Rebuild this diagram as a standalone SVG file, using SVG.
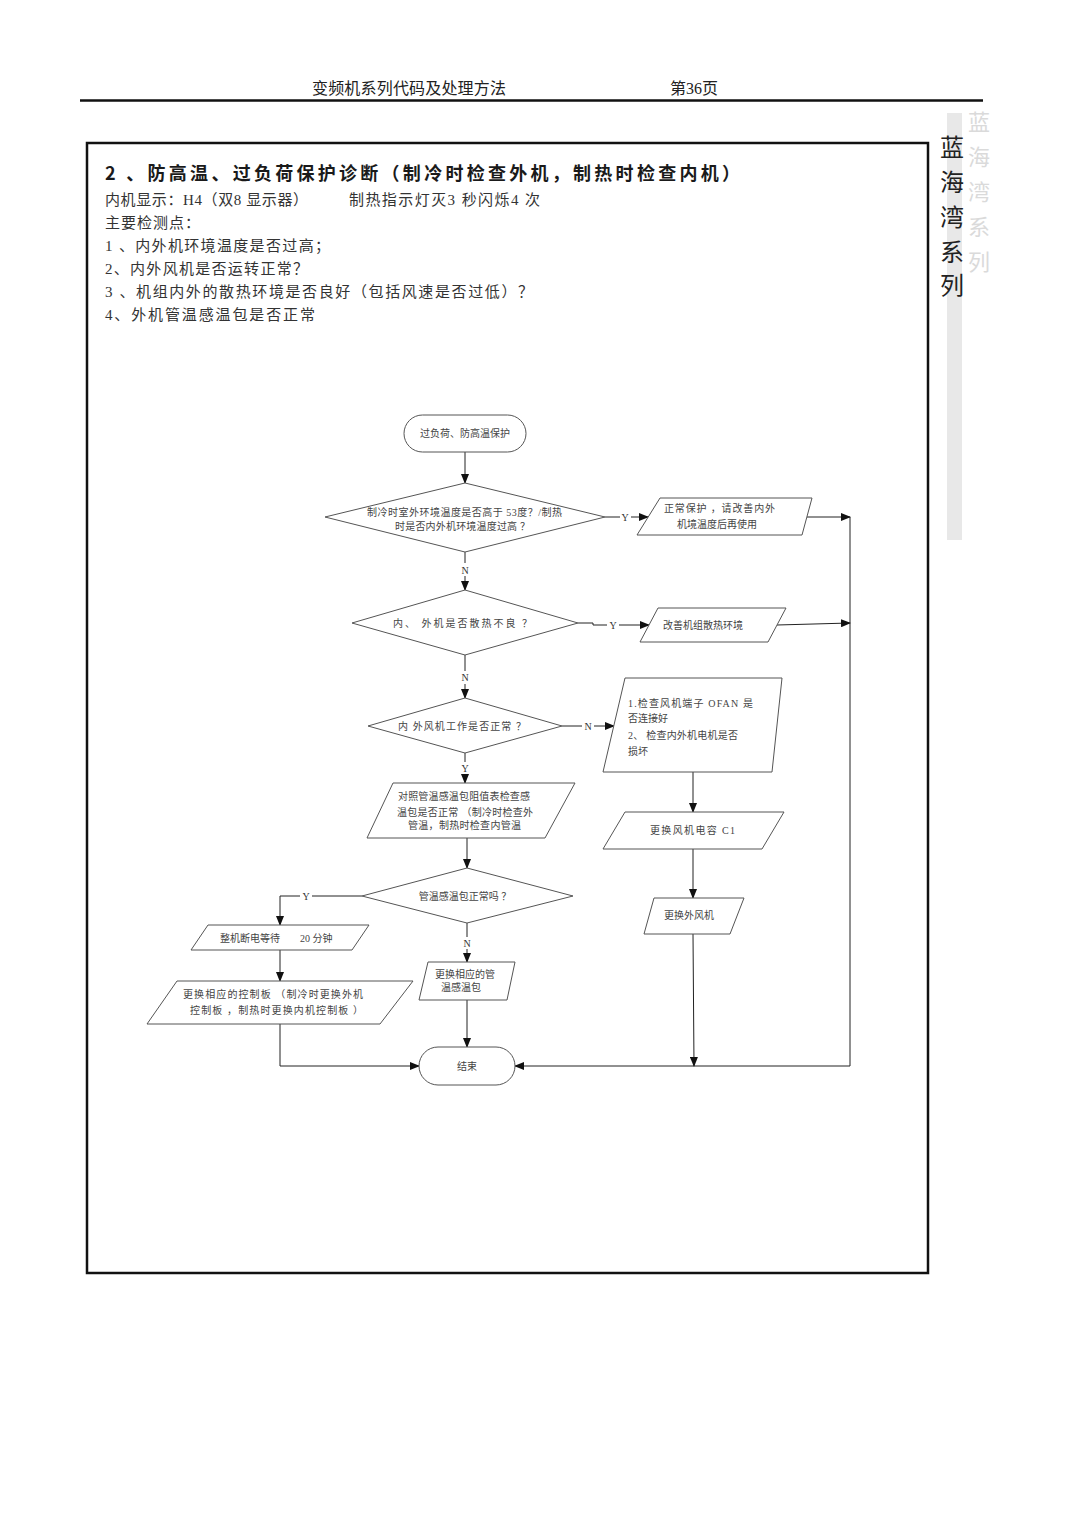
<svg xmlns="http://www.w3.org/2000/svg" width="1080" height="1527" viewBox="0 0 1080 1527">
<defs>
<marker id="arr" markerWidth="10" markerHeight="8" refX="9" refY="4" orient="auto" markerUnits="userSpaceOnUse">
<path d="M0,0 L10,4 L0,8 Z" fill="#111"/>
</marker>
<clipPath id="ghostclip"><rect x="966" y="100" width="40" height="460"/></clipPath>
</defs>
<style>
.hdr{font-family:"Liberation Serif","Noto Sans CJK SC",serif;font-size:16px;fill:#222}
.title{font-family:"Noto Sans CJK SC","Liberation Sans",sans-serif;font-size:18px;font-weight:bold;fill:#1a1a1a}
.body{font-family:"Liberation Serif","Noto Sans CJK SC",serif;font-size:15px;fill:#333}
.side{font-family:"Noto Sans CJK SC",sans-serif;font-size:24px;fill:#222;text-anchor:middle}
.ghost{font-family:"Noto Sans CJK SC",sans-serif;font-size:22px;fill:#dadada;text-anchor:middle}
.shape{fill:#fff;stroke:#555;stroke-width:1}
.t{font-family:"Liberation Serif","Noto Sans CJK SC",serif;font-size:10px;fill:#444}
.tc{font-family:"Liberation Serif","Noto Sans CJK SC",serif;font-size:10px;fill:#444;text-anchor:middle}
.lbl{font-family:"Liberation Serif",serif;font-size:10px;fill:#333;text-anchor:middle}
.c{fill:none;stroke:#222;stroke-width:1}
.ca{fill:none;stroke:#222;stroke-width:1;marker-end:url(#arr)}
</style>
<rect width="1080" height="1527" fill="#fff"/>

<g id="page-header">
<text class="hdr" x="312" y="94" textLength="194">变频机系列代码及处理方法</text>
<text class="hdr" x="670" y="94" textLength="48">第36页</text>
<line x1="80" y1="100.5" x2="983" y2="100.5" stroke="#111" stroke-width="2.5"/>
</g>

<g id="side-banner">
<rect x="947" y="113" width="15" height="427" fill="#e8e8e8"/>
<g clip-path="url(#ghostclip)">
<text class="ghost" x="979" y="130">蓝</text>
<text class="ghost" x="979" y="165">海</text>
<text class="ghost" x="979" y="200">湾</text>
<text class="ghost" x="979" y="235">系</text>
<text class="ghost" x="979" y="270">列</text>
</g>
<text class="side" x="952" y="156">蓝</text>
<text class="side" x="952" y="191">海</text>
<text class="side" x="952" y="226">湾</text>
<text class="side" x="952" y="261">系</text>
<text class="side" x="952" y="294">列</text>
</g>

<rect id="frame" x="87" y="143" width="841" height="1130" fill="none" stroke="#111" stroke-width="2.5"/>

<g id="intro">
<text class="title" x="105" y="180" textLength="635">2 、防高温、过负荷保护诊断（制冷时检查外机，制热时检查内机）</text>
<text class="body" x="105" y="205" textLength="203">内机显示：H4（双8 显示器）</text>
<text class="body" x="349" y="205" textLength="191">制热指示灯灭3 秒闪烁4 次</text>
<text class="body" x="105" y="228" textLength="95">主要检测点：</text>
<text class="body" x="105" y="251" textLength="225">1 、内外机环境温度是否过高；</text>
<text class="body" x="105" y="274" textLength="203">2、内外风机是否运转正常？</text>
<text class="body" x="105" y="297" textLength="428">3 、机组内外的散热环境是否良好（包括风速是否过低）？</text>
<text class="body" x="105" y="320" textLength="210">4、外机管温感温包是否正常</text>
</g>

<g id="connectors">
<line class="ca" x1="465" y1="452" x2="465" y2="483"/>
<line class="c" x1="605" y1="517" x2="620" y2="517"/>
<line class="ca" x1="631" y1="517" x2="648" y2="517"/>
<line class="ca" x1="807" y1="517" x2="850" y2="517"/>
<line class="c" x1="465" y1="552" x2="465" y2="563"/>
<line class="ca" x1="465" y1="576" x2="465" y2="590"/>
<polyline class="c" points="578,623 593,623 593,625 607,625"/>
<line class="ca" x1="619" y1="625" x2="649" y2="625"/>
<line class="ca" x1="777" y1="625" x2="850" y2="623"/>
<line class="c" x1="465" y1="655" x2="465" y2="671"/>
<line class="ca" x1="465" y1="684" x2="465" y2="698"/>
<line class="c" x1="562" y1="726" x2="582" y2="726"/>
<line class="ca" x1="594" y1="726" x2="614" y2="726"/>
<line class="c" x1="465" y1="753" x2="465" y2="762"/>
<line class="ca" x1="465" y1="774" x2="465" y2="783"/>
<line class="ca" x1="693" y1="772" x2="693" y2="812"/>
<line class="ca" x1="693" y1="849" x2="693" y2="898"/>
<line class="ca" x1="693" y1="934" x2="694" y2="1066"/>
<polyline class="ca" points="850,517 850,1066 515,1066"/>
<line class="ca" x1="467" y1="838" x2="467" y2="868"/>
<polyline class="c" points="362,896 312,896"/>
<polyline class="ca" points="300,896 280,896 280,925"/>
<line class="ca" x1="280" y1="950" x2="280" y2="981"/>
<polyline class="ca" points="280,1024 280,1066 419,1066"/>
<line class="c" x1="467" y1="923" x2="467" y2="937"/>
<line class="ca" x1="467" y1="949" x2="467" y2="962"/>
<line class="ca" x1="467" y1="1000" x2="467" y2="1047"/>
<text class="lbl" x="625" y="521">Y</text>
<text class="lbl" x="465" y="574">N</text>
<text class="lbl" x="613" y="629">Y</text>
<text class="lbl" x="465" y="681">N</text>
<text class="lbl" x="588" y="730">N</text>
<text class="lbl" x="465" y="772">Y</text>
<text class="lbl" x="306" y="900">Y</text>
<text class="lbl" x="467" y="947">N</text>
</g>

<g id="start">
<rect class="shape" x="404" y="415" width="122" height="37" rx="18.5"/>
<text class="tc" x="465" y="437">过负荷、防高温保护</text>
</g>

<g id="d1">
<polygon class="shape" points="465,483 605,517 465,552 325,517"/>
<text class="t" x="367" y="516" textLength="195">制冷时室外环境温度是否高于 53度？/制热</text>
<text class="t" x="395" y="530" textLength="135">时是否内外机环境温度过高 ？</text>
</g>

<g id="p1">
<polygon class="shape" points="660,498 812,498 802,535 637,535"/>
<text class="t" x="664" y="512" textLength="111">正常保护 ，请改善内外</text>
<text class="t" x="677" y="528">机境温度后再使用</text>
</g>

<g id="d2">
<polygon class="shape" points="465,590 578,623 465,655 352,623"/>
<text class="t" x="393" y="627" textLength="139">内、 外机是否散热不良        ？</text>
</g>

<g id="p2">
<polygon class="shape" points="658,608 786,608 768,642 640,642"/>
<text class="t" x="663" y="629">改善机组散热环境</text>
</g>

<g id="d3">
<polygon class="shape" points="465,698 562,726 465,753 368,726"/>
<text class="t" x="398" y="730" textLength="128">内 外风机工作是否正常      ？</text>
</g>

<g id="p3">
<polygon class="shape" points="625,678 782,678 772,772 603,772"/>
<text class="t" x="628" y="707" textLength="125">1.检查风机端子    OFAN 是</text>
<text class="t" x="628" y="722">否连接好</text>
<text class="t" x="628" y="739" textLength="110">2、 检查内外机电机是否</text>
<text class="t" x="628" y="755">损坏</text>
</g>

<g id="p4">
<polygon class="shape" points="393,783 575,783 545,838 367,838"/>
<text class="t" x="398" y="800" textLength="132">对照管温感温包阻值表检查感</text>
<text class="t" x="397" y="816" textLength="136">温包是否正常 （制冷时检查外</text>
<text class="t" x="408" y="829" textLength="113">管温，制热时检查内管温</text>
</g>

<g id="p5">
<polygon class="shape" points="625,812 784,812 762,849 603,849"/>
<text class="t" x="650" y="834" textLength="85">更换风机电容    C1</text>
</g>

<g id="p6">
<polygon class="shape" points="654,898 744,898 730,934 644,934"/>
<text class="t" x="664" y="919">更换外风机</text>
</g>

<g id="d5">
<polygon class="shape" points="467,868 573,896 467,923 362,896"/>
<text class="tc" x="465" y="900">管温感温包正常吗 ？</text>
</g>

<g id="p7">
<polygon class="shape" points="208,925 369,925 352,950 191,950"/>
<text class="t" x="220" y="942">整机断电等待</text>
<text class="t" x="300" y="942">20 分钟</text>
</g>

<g id="p8">
<polygon class="shape" points="177,981 413,981 380,1024 147,1024"/>
<text class="t" x="183" y="998" textLength="180">更换相应的控制板      （制冷时更换外机</text>
<text class="t" x="190" y="1014" textLength="173">控制板  ，制热时更换内机控制板        ）</text>
</g>

<g id="p9">
<polygon class="shape" points="428,962 515,962 507,1000 419,1000"/>
<text class="t" x="435" y="978">更换相应的管</text>
<text class="tc" x="461" y="991">温感温包</text>
</g>

<g id="end">
<rect class="shape" x="419" y="1047" width="96" height="38" rx="19"/>
<text class="tc" x="467" y="1070">结束</text>
</g>
</svg>
